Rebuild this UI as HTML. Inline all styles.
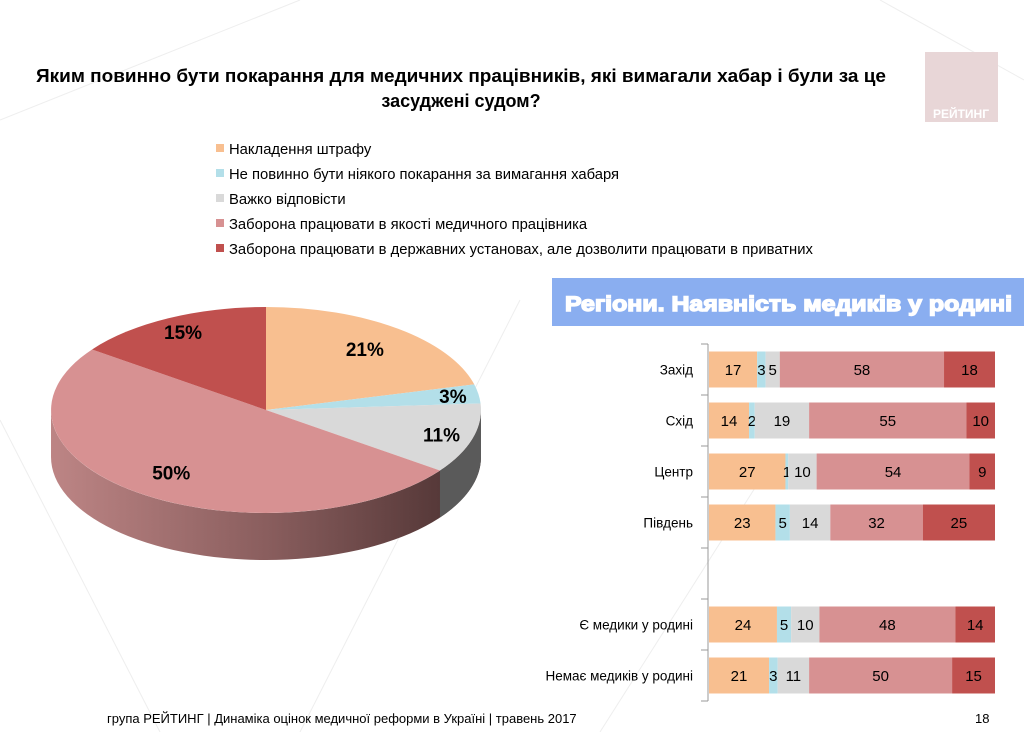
<!DOCTYPE html>
<html><head><meta charset="utf-8">
<style>
body{margin:0;background:#fff;}
svg{display:block;font-family:"Liberation Sans",sans-serif;}
</style></head>
<body>
<svg width="1024" height="732" viewBox="0 0 1024 732">
<defs>
<linearGradient id="wall" x1="0" x2="1" y1="0" y2="0">
<stop offset="0" stop-color="#bd8585"/><stop offset="0.5" stop-color="#8a5e5e"/><stop offset="1" stop-color="#4a3030"/>
</linearGradient>
</defs>
<g stroke="#eeeeee" stroke-width="1">
<line x1="0" y1="120" x2="300" y2="0"/><line x1="0" y1="420" x2="160" y2="732"/>
<line x1="300" y1="732" x2="520" y2="300"/><line x1="880" y1="0" x2="1024" y2="80"/>
<line x1="600" y1="732" x2="760" y2="480"/>
</g>
<text x="36" y="82" textLength="850" lengthAdjust="spacingAndGlyphs" font-size="18" font-weight="bold">Яким повинно бути покарання для медичних працівників, які вимагали хабар і були за це</text>
<text x="461" y="107" text-anchor="middle" font-size="18" font-weight="bold">засуджені судом?</text>
<g>
<rect x="925" y="52" width="73" height="70" fill="#e8d6d7"/>
<text x="961" y="118" text-anchor="middle" font-size="12" font-weight="bold" fill="#fff">РЕЙТИНГ</text>
</g>
<g id="legend"></g>
<g id="pie"></g>
<g>
<rect x="552" y="278" width="472" height="48" fill="#8aaef0"/>
<text x="565" y="311" textLength="447" lengthAdjust="spacingAndGlyphs" font-size="21" font-weight="bold" fill="#fff" stroke="#fff" stroke-width="1.4">Регіони. Наявність медиків у родині</text>
</g>
<g id="bars"></g>
<text x="107" y="723" font-size="13">група РЕЙТИНГ  |  Динаміка оцінок медичної реформи в Україні  |  травень 2017</text>
<text x="975" y="723" font-size="13">18</text>
</svg>
<script>
const seriesNames=["Накладення штрафу","Не повинно бути ніякого покарання за вимагання хабаря","Важко відповісти","Заборона працювати в якості медичного працівника","Заборона працювати в державних установах, але дозволити працювати в приватних"];
const colors=["#f8bf90","#b3dfe9","#d9d9d9","#d79192","#c0504e"];
const pieValues=[21,3,11,50,15];
const categories=["Захід","Схід","Центр","Південь","","Є медики у родині","Немає медиків у родині"];
const s1=[17,14,27,23,null,24,21];
const s2=[3,2,1,5,null,5,3];
const s3=[5,19,10,14,null,10,11];
const s4=[58,55,54,32,null,48,50];
const s5=[18,10,9,25,null,14,15];
const NS="http://www.w3.org/2000/svg";
function mk(t,a,p){const e=document.createElementNS(NS,t);for(const k in a)e.setAttribute(k,a[k]);p.appendChild(e);return e;}
// legend
const lg=document.getElementById('legend');
seriesNames.forEach((n,i)=>{
 const y=149+i*25;
 const r=mk('rect',{x:216,y:y-5,width:8,height:8,fill:colors[i]},lg);
 
 
 const t=mk('text',{x:229,y:y+5,'font-size':14.8},lg);t.textContent=n;
 
 
});
// pie
const pg=document.getElementById('pie');
const cx=266,cy=410,rx=215,ry=103,d=47;
function pt(t,dy){return [cx+rx*Math.sin(t),cy-ry*Math.cos(t)+(dy||0)];}
const tot=pieValues.reduce((a,b)=>a+b,0);
const wall=mk('path',{d:`M${cx-rx},${cy} L${cx-rx},${cy+d} A${rx},${ry} 0 0 0 ${cx+rx},${cy+d} L${cx+rx},${cy} A${rx},${ry} 0 0 1 ${cx-rx},${cy} Z`,fill:'url(#wall)'},pg);


let acc=0;const angles=[];
pieValues.forEach(v=>{const a0=acc/tot*2*Math.PI;acc+=v;angles.push([a0,acc/tot*2*Math.PI]);});
angles.forEach(([a0,a1],i)=>{
 const s=Math.max(a0,Math.PI/2),e=Math.min(a1,Math.PI);
 if(e>s && i!==3){
  const p0=pt(s),p1=pt(e);
  const w=mk('path',{d:`M${p0} L${p0[0]},${p0[1]+d} A${rx},${ry} 0 0 1 ${p1[0]},${p1[1]+d} L${p1} A${rx},${ry} 0 0 0 ${p0} Z`,fill:'#5a5a5a'},pg);
  
  
 }
});
angles.forEach(([a0,a1],i)=>{
 const p0=pt(a0),p1=pt(a1);const large=(a1-a0)>Math.PI?1:0;
 const s=mk('path',{d:`M${cx},${cy} L${p0} A${rx},${ry} 0 ${large} 1 ${p1} Z`,fill:colors[i]},pg);
 
 
});
const labF=[0.75,0.88,0.85,0.75,0.85];
angles.forEach(([a0,a1],i)=>{
 const m=(a0+a1)/2;const f=labF[i];
 const x=cx+rx*f*Math.sin(m),y=cy-ry*f*Math.cos(m)+7;
 const t=mk('text',{x:x,y:y,'text-anchor':'middle','font-size':19,'font-weight':'bold'},pg);
 t.textContent=pieValues[i]+'%';
 
 
});
// bars
const bg=document.getElementById('bars');
const bx0=709,bW=286,bTop=344,band=51,bh=36;
const ax=mk('line',{x1:708,y1:bTop,x2:708,y2:bTop+band*7,stroke:'#999'},bg);


for(let k=0;k<=7;k++){const tk=mk('line',{x1:701,y1:bTop+k*band,x2:708,y2:bTop+k*band,stroke:'#999'},bg);
 
 }
const series=[s1,s2,s3,s4,s5];
categories.forEach((c,i)=>{
 const yc=bTop+band*i+band/2;
 const lt=mk('text',{x:693,y:yc+5,'text-anchor':'end','font-size':13.5},bg);lt.textContent=c;
 
 
 if(s1[i]==null)return;
 const sum=series.reduce((a,s)=>a+s[i],0);
 let xx=bx0;
 series.forEach((s,j)=>{
  const w=s[i]/sum*bW;
  const r=mk('rect',{x:xx,y:yc-bh/2,width:w,height:bh,fill:colors[j]},bg);
  
  
  const t=mk('text',{x:xx+w/2,y:yc+5.5,'text-anchor':'middle','font-size':15},bg);t.textContent=s[i];
  
  
  xx+=w;
 });
});
</script>
</body></html>
